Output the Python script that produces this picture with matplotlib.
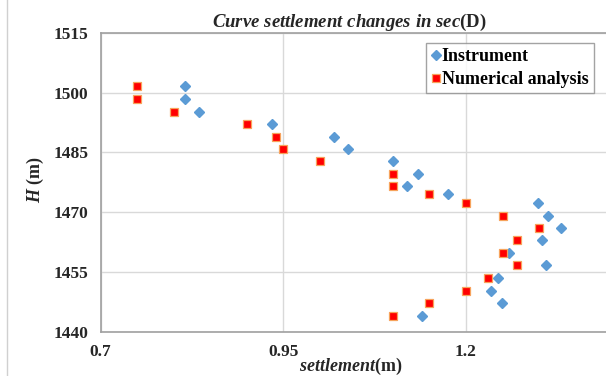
import matplotlib
matplotlib.use("Agg")
import matplotlib.pyplot as plt
from matplotlib.lines import Line2D

plt.rcParams["font.family"] = ["Liberation Serif", "DejaVu Serif"]
plt.rcParams["mathtext.fontset"] = "custom"
plt.rcParams["mathtext.it"] = "Liberation Serif:italic:bold"
plt.rcParams["mathtext.rm"] = "Liberation Serif:bold"
plt.rcParams["mathtext.bf"] = "Liberation Serif:bold"

# Elevation (m) of each observation point
elevation = [1501.6, 1498.3, 1495.1, 1492.2, 1488.9, 1485.9, 1482.8, 1479.7, 1476.6, 1474.5,
             1472.4, 1469.1, 1466.1, 1463.0, 1459.8, 1456.7, 1453.5, 1450.3, 1447.3, 1444.1]

# Settlement (m) measured by instrument
instrument = [0.815, 0.815, 0.834, 0.935, 1.020, 1.038, 1.100, 1.134, 1.119, 1.175,
              1.299, 1.312, 1.330, 1.304, 1.259, 1.309, 1.244, 1.234, 1.249, 1.140]

# Settlement (m) from numerical analysis
numerical = [0.75, 0.75, 0.80, 0.90, 0.94, 0.95, 1.00, 1.10, 1.10, 1.15,
             1.20, 1.25, 1.30, 1.27, 1.25, 1.27, 1.23, 1.20, 1.15, 1.10]

x_ticks = [0.7, 0.95, 1.2]
x_tick_labels = ["0.7", "0.95", "1.2"]
y_ticks = [1440, 1455, 1470, 1485, 1500, 1515]

W, H = 606, 376
fig = plt.figure(figsize=(W / 100, H / 100), dpi=100)
ax = fig.add_axes([100.6 / W, 1 - 332 / H, 1 - 100.6 / W, (332 - 32.7) / H])

ax.plot(instrument, elevation, linestyle="none", marker="D", markersize=5.2,
        color="#5B9BD5", markeredgecolor="#5B9BD5", label="Instrument", zorder=3)
ax.plot(numerical, elevation, linestyle="none", marker="s", markersize=6.2,
        color="#FF0000", markeredgecolor="#F7A35C", markeredgewidth=0.9,
        label="Numerical analysis", zorder=3)

ax.set_xlim(0.7, 0.7 + (W - 100.6) / 730.8)
ax.set_ylim(1440, 1515)
ax.set_xticks(x_ticks)
ax.set_xticklabels(x_tick_labels)
ax.set_yticks(y_ticks)
ax.tick_params(length=0, labelsize=12.5, pad=9)
for lab in ax.get_xticklabels() + ax.get_yticklabels():
    lab.set_fontweight("bold")
    lab.set_color("#262626")

ax.grid(True, color="#D9D9D9", linewidth=1.0)
ax.set_axisbelow(True)
for side in ("left", "bottom", "top"):
    ax.spines[side].set_color("#A0A0A0")
    ax.spines[side].set_linewidth(1.2)
ax.spines["right"].set_visible(False)

fig.text(349 / W, 1 - 22 / H, r"$\mathit{Curve\ settlement\ changes\ in\ sec}\mathrm{(D)}$",
         ha="center", va="center", fontsize=13.5, color="#262626")
fig.text(351 / W, 1 - 366 / H, r"$\mathit{settlement}$(m)", ha="center", va="center",
         fontsize=13, fontweight="bold", color="#262626")
fig.text(35 / W, 1 - 180 / H, r"$\mathit{H}$ (m)", ha="center", va="center",
         rotation=90, fontsize=13, fontweight="bold", color="#262626")

leg = ax.legend(loc="upper right", bbox_to_anchor=(594 / W, 1 - 43 / H),
                bbox_transform=fig.transFigure, frameon=True, fancybox=False,
                handlelength=0.4, handletextpad=0.15, borderpad=0.3,
                labelspacing=0.3, borderaxespad=0, markerscale=0.9,
                prop={"family": "Liberation Serif", "weight": "bold", "size": 13})
leg.get_frame().set_edgecolor("#8C8C8C")
leg.get_frame().set_linewidth(1.0)

# thin chart border on the left edge
fig.add_artist(Line2D([7 / W, 7 / W], [0, 1], transform=fig.transFigure,
                      color="#D0D0D0", linewidth=1.0))

fig.savefig("out.png", dpi=100)
